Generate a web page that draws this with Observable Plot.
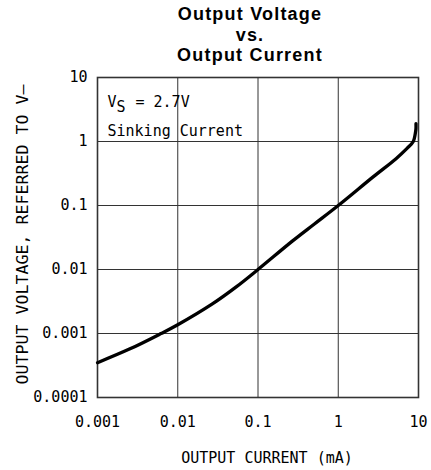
<!DOCTYPE html>
<html>
<head>
<meta charset="utf-8">
<script src="https://cdn.jsdelivr.net/npm/d3@7"></script>
<script src="https://cdn.jsdelivr.net/npm/@observablehq/plot@0.6"></script>
<style>
  html, body { margin: 0; padding: 0; background: #fff; }
  #wrap { width: 431px; height: 470px; position: relative; overflow: hidden; }
  #title { position: relative; width: 431px; height: 66px; }
  #title div { position: absolute; left: 69px; width: 362px; text-align: center;
    font-family: "Liberation Sans", Arial, sans-serif; font-weight: bold; font-size: 18px;
    line-height: 12px; letter-spacing: 1.2px; color: #000; white-space: nowrap; }
  #chart svg { display: block; }
</style>
</head>
<body>
<div id="wrap">
  <div id="title"></div>
  <div id="chart"></div>
</div>
<script>
const titleLines = ["Output Voltage", "vs.", "Output Current"];
const xTicks = [0.001, 0.01, 0.1, 1, 10];
const xTickLabels = ["0.001", "0.01", "0.1", "1", "10"];
const yTicks = [0.0001, 0.001, 0.01, 0.1, 1, 10];
const yTickLabels = ["0.0001", "0.001", "0.01", "0.1", "1", "10"];
const xLabel = "OUTPUT CURRENT (mA)";
const yLabel = "OUTPUT VOLTAGE, REFERRED TO V\u2013";
const noteSymbol = "V";
const noteSub = "S";
const noteValue = "= 2.7V";
const noteMode = "Sinking Current";

// Output current (mA) and output voltage (V)
const currentMA = [0.001, 0.0025, 0.0062, 0.01, 0.027, 0.053, 0.1, 0.27, 0.5, 1, 2.72, 5.25, 7.2, 8.6, 9.2, 9.3, 9.3];
const voltageV  = [0.00035, 0.00057, 0.001, 0.00137, 0.0029, 0.0053, 0.01, 0.028, 0.051, 0.1, 0.28, 0.54, 0.78, 1.0, 1.43, 1.6, 1.9];

const titleTops = [8.3, 28.8, 49.3];
const titleEl = document.getElementById("title");
titleLines.forEach((t, i) => {
  const d = document.createElement("div");
  d.textContent = t;
  d.style.top = titleTops[i] + "px";
  titleEl.appendChild(d);
});

const curve = currentMA.map((x, i) => ({x, y: voltageV[i]}));
const mono = "DejaVu Sans Mono, monospace";
const gridColor = "#333";

const chart = Plot.plot({
  width: 431,
  height: 404,
  marginTop: 11,
  marginBottom: 73,
  marginLeft: 97,
  marginRight: 13,
  style: {fontFamily: mono, fontSize: "15px", color: "#000", background: "#fff"},
  x: {type: "log", domain: [0.001, 10], ticks: xTicks,
      tickFormat: d => xTickLabels[xTicks.indexOf(d)], tickSize: 0, tickPadding: 19, label: null},
  y: {type: "log", domain: [0.0001, 10], ticks: yTicks,
      tickFormat: d => yTickLabels[yTicks.indexOf(d)], tickSize: 0, tickPadding: 10, label: null},
  marks: [
    Plot.ruleX(xTicks, {stroke: gridColor, strokeWidth: 1}),
    Plot.ruleY(yTicks, {stroke: gridColor, strokeWidth: 1}),
    Plot.frame({stroke: "#333", strokeWidth: 1.6}),
    Plot.line(curve, {x: "x", y: "y", stroke: "#000", strokeWidth: 3.3, curve: "catmull-rom"}),
    Plot.text([noteSymbol], {text: d => d, frameAnchor: "top-left", textAnchor: "start", dx: 10, dy: 19, fontSize: 15}),
    Plot.text([noteSub], {text: d => d, frameAnchor: "top-left", textAnchor: "start", dx: 19, dy: 24, fontSize: 15}),
    Plot.text([noteValue], {text: d => d, frameAnchor: "top-left", textAnchor: "start", dx: 38, dy: 19, fontSize: 15}),
    Plot.text([noteMode], {text: d => d, frameAnchor: "top-left", textAnchor: "start", dx: 10, dy: 48, fontSize: 15}),
    Plot.text([xLabel], {text: d => d, frameAnchor: "bottom", textAnchor: "middle", dx: 9, dy: 65, fontSize: 15}),
    Plot.text([yLabel], {text: d => d, frameAnchor: "left", textAnchor: "middle", rotate: -90, dx: -74, dy: -3, fontSize: 15})
  ]
});
chart.querySelectorAll("text").forEach(t => {
  if (t.textContent === yLabel) {
    t.setAttribute("textLength", 300);
    t.setAttribute("lengthAdjust", "spacingAndGlyphs");
  }
});
document.getElementById("chart").appendChild(chart);
</script>
</body>
</html>
